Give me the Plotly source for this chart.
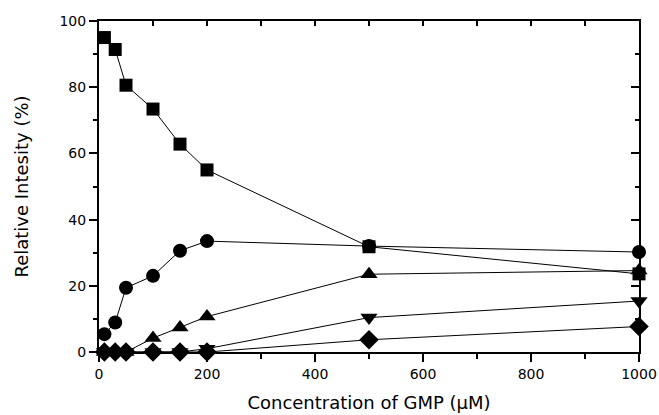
import plotly.graph_objects as go

conc = [10, 30, 50, 100, 150, 200, 500, 1000]
squares = [95.0, 91.4, 80.6, 73.4, 62.8, 55.0, 31.8, 23.6]
circles = [5.4, 8.9, 19.4, 23.0, 30.6, 33.5, 32.0, 30.2]
tri_up = [0, 0, 0, 4.2, 7.4, 10.7, 23.5, 24.6]
tri_down = [0, 0, 0, 0, 0, 1.0, 10.4, 15.4]
diamonds = [0, 0, 0, 0, 0, 0, 3.7, 7.7]

x_ticks = [0, 200, 400, 600, 800, 1000]
x_minor = [100, 300, 500, 700, 900]
y_ticks = [0, 20, 40, 60, 80, 100]
y_minor = [10, 30, 50, 70, 90]

series = [
    (squares, "square", 13),
    (circles, "circle", 14),
    (tri_up, "triangle-up", 15),
    (tri_down, "triangle-down", 15),
    (diamonds, "diamond", 15),
]

fig = go.Figure()
for vals, sym, sz in series:
    fig.add_trace(go.Scatter(
        x=conc, y=vals, mode="lines+markers",
        line=dict(color="black", width=1),
        marker=dict(symbol=sym, size=sz, color="black"),
        cliponaxis=False, showlegend=False))

# invisible trace for the mirrored (inward-tick) axes
fig.add_trace(go.Scatter(x=[0], y=[0], xaxis="x2", yaxis="y2",
                         mode="markers", marker=dict(opacity=0),
                         showlegend=False, hoverinfo="skip"))

font = "DejaVu Sans, Arial, sans-serif"
blk = "black"
fig.update_layout(
    width=659, height=415,
    margin=dict(l=99, r=20, t=21, b=63, autoexpand=False),
    paper_bgcolor="white", plot_bgcolor="white",
    font=dict(family=font, color=blk, size=14),
    xaxis=dict(range=[0, 1000], tickvals=x_ticks, automargin=False,
               ticks="outside", ticklen=8, tickwidth=1.5, tickcolor=blk,
               minor=dict(tickvals=x_minor, ticks="outside",
                          ticklen=5, tickwidth=1.5, tickcolor=blk),
               showline=True, linecolor=blk, linewidth=2,
               showgrid=False, zeroline=False,
               tickfont=dict(size=14),
               title=dict(text="Concentration of GMP (µM)",
                          font=dict(size=18), standoff=16)),
    yaxis=dict(range=[0, 100], tickvals=y_ticks, automargin=False,
               ticks="outside", ticklen=8, tickwidth=1.5, tickcolor=blk,
               minor=dict(tickvals=y_minor, ticks="outside",
                          ticklen=4, tickwidth=1.5, tickcolor=blk),
               showline=True, linecolor=blk, linewidth=2,
               showgrid=False, zeroline=False,
               tickfont=dict(size=14),
               title=dict(text="Relative Intesity (%)",
                          font=dict(size=18), standoff=26)),
    xaxis2=dict(overlaying="x", side="top", range=[0, 1000],
                tickvals=x_ticks, showticklabels=False, automargin=False,
                ticks="inside", ticklen=5, tickwidth=1.5, tickcolor=blk,
                minor=dict(tickvals=x_minor, ticks="inside",
                           ticklen=5, tickwidth=1.5, tickcolor=blk),
                showline=True, linecolor=blk, linewidth=2,
                showgrid=False, zeroline=False),
    yaxis2=dict(overlaying="y", side="right", range=[0, 100],
                tickvals=y_ticks, showticklabels=False, automargin=False,
                ticks="inside", ticklen=8, tickwidth=1.5, tickcolor=blk,
                minor=dict(tickvals=y_minor, ticks="inside",
                           ticklen=4, tickwidth=1.5, tickcolor=blk),
                showline=True, linecolor=blk, linewidth=2,
                showgrid=False, zeroline=False),
)

fig.write_html(
    "out.html",
    config={"displayModeBar": False},
    post_script="document.body.style.margin='0';"
                "document.body.style.overflow='hidden';",
)
